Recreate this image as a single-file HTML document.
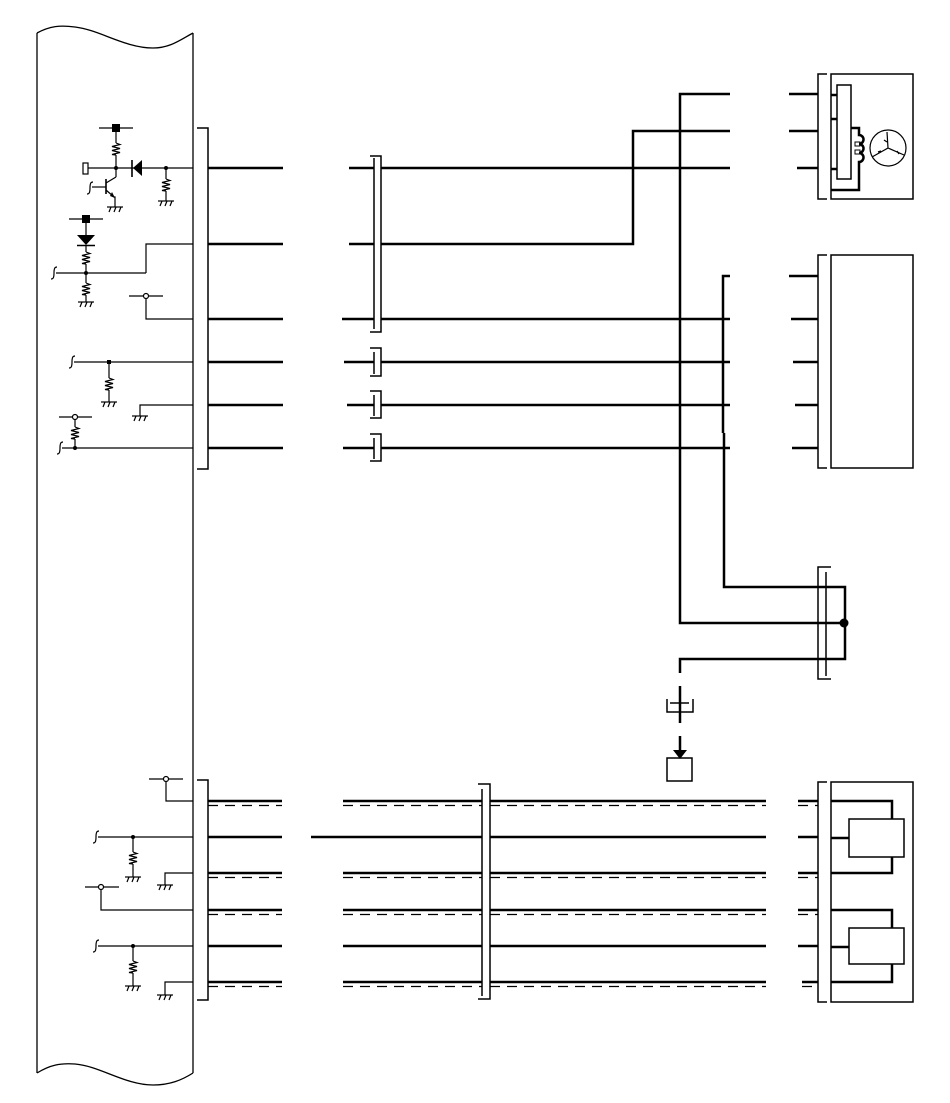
<!DOCTYPE html>
<html><head><meta charset="utf-8"><style>
html,body{margin:0;padding:0;background:#fff;}
svg{display:block;}
</style></head><body>
<svg width="950" height="1103" viewBox="0 0 950 1103" xmlns="http://www.w3.org/2000/svg">
<defs>
<g id="gnd" fill="none" stroke="#000" stroke-width="1.2"><line x1="-8" y1="0" x2="8" y2="0"/><path d="M-4,0 l-2,5 M1,0 l-2,5 M6,0 l-2,5"/></g>
<path id="res" fill="none" stroke="#000" stroke-width="1.2" d="M0,0 l4,1.5 l-8,2 l8,2 l-8,2 l8,2 l-8,2 l4,0.5"/>
<path id="sq" fill="none" stroke="#000" stroke-width="1.2" d="M3,-6 c-2,0 -3,1 -3,6 c0,5 -1,6 -3,6"/>
</defs>
<rect width="950" height="1103" fill="#fff"/>

<!-- left panel -->
<g fill="none" stroke="#000" stroke-width="1.3">
<path d="M37,33 C50,26 60,25 75,27 C100,30 125,48 153,48 C170,48 180,40 193,33"/>
<path d="M37,1073 C50,1065 60,1063 75,1064 C100,1066 125,1085 153,1085 C170,1085 182,1080 193,1073"/>
<line x1="37" y1="33" x2="37" y2="1073"/>
<line x1="193" y1="33" x2="193" y2="1073"/>
</g>

<!-- left internal circuitry -->
<g fill="none" stroke="#000" stroke-width="1.2">
<!-- group 1 -->
<rect x="83" y="163" width="5" height="11" fill="#fff"/>
<line x1="88" y1="168" x2="193" y2="168"/>
<line x1="99" y1="128" x2="133" y2="128"/>
<line x1="116" y1="132" x2="116" y2="143"/>
<line x1="116" y1="155" x2="116" y2="177"/>
<line x1="106" y1="179" x2="106" y2="194" stroke-width="1.6"/>
<line x1="92" y1="187" x2="106" y2="187"/>
<polyline points="106,183 116,177"/>
<polyline points="106,190 114,197 115,197 115,207"/>
<line x1="132" y1="160" x2="132" y2="177" stroke-width="1.6"/>
<line x1="166" y1="168" x2="166" y2="179"/>
<line x1="166" y1="191" x2="166" y2="201"/>
<!-- group 2 -->
<line x1="69" y1="219" x2="103" y2="219"/>
<line x1="86" y1="223" x2="86" y2="235"/>
<line x1="77" y1="245.5" x2="95" y2="245.5" stroke-width="1.6"/>
<line x1="86" y1="245" x2="86" y2="252"/>
<line x1="86" y1="264" x2="86" y2="283"/>
<line x1="56" y1="273" x2="146" y2="273"/>
<polyline points="146,273 146,244 193,244"/>
<line x1="86" y1="295" x2="86" y2="302"/>
<!-- switch row 319 -->
<line x1="129" y1="296" x2="163" y2="296"/>
<polyline points="146,298 146,319 193,319"/>
<!-- row 362 -->
<line x1="74" y1="362" x2="193" y2="362"/>
<line x1="109" y1="362" x2="109" y2="378"/>
<line x1="109" y1="390" x2="109" y2="402"/>
<!-- row 405 -->
<polyline points="140,416 140,405 193,405"/>
<!-- row 448 -->
<line x1="59" y1="417" x2="92" y2="417"/>
<line x1="75" y1="420" x2="75" y2="427"/>
<line x1="75" y1="439" x2="75" y2="448"/>
<line x1="62" y1="448" x2="193" y2="448"/>

<!-- bottom group -->
<line x1="149" y1="779" x2="183" y2="779"/>
<polyline points="166,782 166,801 193,801"/>
<line x1="98" y1="837" x2="193" y2="837"/>
<line x1="133" y1="837" x2="133" y2="852"/>
<line x1="133" y1="864" x2="133" y2="877"/>
<polyline points="165,885 165,873 193,873"/>
<line x1="85" y1="887" x2="119" y2="887"/>
<polyline points="101,890 101,910 193,910"/>
<line x1="98" y1="946" x2="193" y2="946"/>
<line x1="133" y1="946" x2="133" y2="961"/>
<line x1="133" y1="973" x2="133" y2="986"/>
<polyline points="165,995 165,982 193,982"/>
</g>
<!-- filled bits -->
<g fill="#000" stroke="none">
<rect x="112" y="124" width="8" height="8"/>
<rect x="82" y="215" width="8" height="8"/>
<polygon points="133,168 142,160 142,176"/>
<polygon points="77,235 95,235 86,245"/>
<polygon points="110,196 115,198 112,192"/>
<circle cx="116" cy="168" r="2"/>
<circle cx="166" cy="168" r="2"/>
<circle cx="86" cy="273" r="2"/>
<rect x="107" y="360" width="4" height="4"/>
<circle cx="75" cy="448" r="2"/>
<circle cx="133" cy="837" r="2"/>
<circle cx="133" cy="946" r="2"/>
</g>
<g fill="#fff" stroke="#000" stroke-width="1.2">
<circle cx="146" cy="296" r="2.5"/>
<circle cx="75" cy="417" r="2.5"/>
<circle cx="166" cy="779" r="2.5"/>
<circle cx="101" cy="887" r="2.5"/>
</g>
<!-- resistors -->
<use href="#res" x="116" y="143"/>
<use href="#res" x="166" y="179"/>
<use href="#res" x="86" y="252"/>
<use href="#res" x="86" y="283"/>
<use href="#res" x="109" y="378"/>
<use href="#res" x="75" y="427"/>
<use href="#res" x="133" y="852"/>
<use href="#res" x="133" y="961"/>
<!-- grounds -->
<use href="#gnd" x="115" y="207"/>
<use href="#gnd" x="166" y="201"/>
<use href="#gnd" x="86" y="302"/>
<use href="#gnd" x="109" y="402"/>
<use href="#gnd" x="140" y="416"/>
<use href="#gnd" x="133" y="877"/>
<use href="#gnd" x="165" y="885"/>
<use href="#gnd" x="133" y="986"/>
<use href="#gnd" x="165" y="995"/>
<!-- squiggles -->
<use href="#sq" x="90" y="188"/>
<use href="#sq" x="54" y="273"/>
<use href="#sq" x="72" y="362"/>
<use href="#sq" x="60" y="448"/>
<use href="#sq" x="96" y="837"/>
<use href="#sq" x="96" y="946"/>

<!-- connector brackets (thin) -->
<g fill="none" stroke="#000" stroke-width="1.5">
<polyline points="197,128 208,128 208,469 197,469"/>
<polyline points="197,780 208,780 208,1000 197,1000"/>
<!-- middle tall -->
<polyline points="370,156 381,156 381,332 370,332"/>
<line x1="374" y1="158" x2="374" y2="329"/>
<polyline points="370,348 381,348 381,376 370,376"/>
<line x1="374" y1="352" x2="374" y2="374"/>
<polyline points="370,391 381,391 381,418 370,418"/>
<line x1="374" y1="395" x2="374" y2="416"/>
<polyline points="370,434 381,434 381,461 370,461"/>
<line x1="374" y1="438" x2="374" y2="459"/>
<!-- bottom middle -->
<polyline points="478,784 490,784 490,999 478,999"/>
<line x1="482" y1="789" x2="482" y2="996"/>
<!-- right brackets -->
<polyline points="827,74 818,74 818,199 827,199"/>
<rect x="831" y="74" width="82" height="125"/>
<polyline points="827,255 818,255 818,468 827,468"/>
<rect x="831" y="255" width="82" height="213"/>
<polyline points="831,567 818,567 818,679 831,679"/>
<line x1="826" y1="572" x2="826" y2="676"/>
<polyline points="827,782 818,782 818,1002 827,1002"/>
<rect x="831" y="782" width="82" height="220"/>
<!-- motor internals -->
<rect x="837" y="85" width="14" height="94"/>
<circle cx="888" cy="148" r="18" stroke-width="1.2"/>
<path d="M887,132 L888,148 L872,157 M888,148 L904,155" stroke-width="1.2"/>
<path d="M884,140 l3,2 M878,152 l3,-1 M897,151 l2,3" stroke-width="1.2"/>
<rect x="855" y="142" width="5" height="4" stroke-width="1"/>
<rect x="855" y="150" width="5" height="4" stroke-width="1"/>
<!-- bottom boxes -->
<rect x="849" y="819" width="55" height="38"/>
<rect x="849" y="928" width="55" height="36"/>
<!-- fuse & ground box -->
<line x1="670" y1="703" x2="689" y2="703"/>
<polyline points="667,699 667,712 693,712 693,699"/>
<rect x="667" y="758" width="25" height="23"/>
</g>

<!-- thick wires -->
<g fill="none" stroke="#000" stroke-width="2.5">
<line x1="208" y1="168" x2="283" y2="168"/>
<line x1="208" y1="244" x2="283" y2="244"/>
<line x1="208" y1="319" x2="283" y2="319"/>
<line x1="208" y1="362" x2="283" y2="362"/>
<line x1="208" y1="405" x2="283" y2="405"/>
<line x1="208" y1="448" x2="283" y2="448"/>
<line x1="349" y1="168" x2="374" y2="168"/>
<line x1="349" y1="244" x2="374" y2="244"/>
<line x1="342" y1="319" x2="374" y2="319"/>
<line x1="344" y1="362" x2="374" y2="362"/>
<line x1="347" y1="405" x2="374" y2="405"/>
<line x1="343" y1="448" x2="374" y2="448"/>
<line x1="381" y1="168" x2="730" y2="168"/>
<polyline points="381,244 633,244 633,131 730,131"/>
<line x1="381" y1="319" x2="730" y2="319"/>
<line x1="381" y1="362" x2="730" y2="362"/>
<line x1="381" y1="405" x2="730" y2="405"/>
<line x1="381" y1="448" x2="730" y2="448"/>
<polyline points="730,94 680,94 680,623 826,623"/>
<polyline points="730,276 723,276 723,433"/>
<polyline points="724,433 724,587 826,587"/>
<polyline points="680,673 680,659 826,659"/>
<line x1="680" y1="686" x2="680" y2="723"/>
<line x1="680" y1="736" x2="680" y2="751"/>
<polyline points="826,587 845,587 845,659 826,659"/>
<line x1="826" y1="623" x2="845" y2="623"/>
<!-- right stubs -->
<line x1="789" y1="94" x2="818" y2="94"/>
<line x1="789" y1="131" x2="818" y2="131"/>
<line x1="797" y1="168" x2="818" y2="168"/>
<line x1="789" y1="276" x2="818" y2="276"/>
<line x1="791" y1="319" x2="818" y2="319"/>
<line x1="793" y1="362" x2="818" y2="362"/>
<line x1="795" y1="405" x2="818" y2="405"/>
<line x1="792" y1="448" x2="818" y2="448"/>
<!-- motor internal -->
<path d="M831,95 H837 M831,119 H837 M831,169 H837"/>
<path d="M851,128 H859 V135 a4,4 0 0 1 0,9 a4,4 0 0 1 0,9 a4,4 0 0 1 0,9 V190 H831"/>
<!-- bottom rows -->
<path d="M208,801 H282 M343,801 H482 M490,801 H766 M798,801 H818"/>
<path d="M208,837 H282 M311,837 H482 M490,837 H766 M798,837 H818"/>
<path d="M208,873 H282 M343,873 H482 M490,873 H766 M798,873 H818"/>
<path d="M208,910 H282 M343,910 H482 M490,910 H766 M798,910 H818"/>
<path d="M208,946 H282 M343,946 H482 M490,946 H766 M798,946 H818"/>
<path d="M208,982 H282 M343,982 H482 M490,982 H766 M802,982 H818"/>
<!-- bottom right internals -->
<path d="M831,801 H892 V819 M892,857 V873 H831 M831,838 H849"/>
<path d="M831,910 H892 V928 M892,964 V982 H831 M831,947 H849"/>
</g>
<g fill="none" stroke="#000" stroke-width="1.2" stroke-dasharray="10 7">
<path d="M208,805.5 H282 M343,805.5 H482 M490,805.5 H766 M798,805.5 H818"/>
<path d="M208,877.5 H282 M343,877.5 H482 M490,877.5 H766 M798,877.5 H818"/>
<path d="M208,914.5 H282 M343,914.5 H482 M490,914.5 H766 M798,914.5 H818"/>
<path d="M208,986.5 H282 M343,986.5 H482 M490,986.5 H766 M802,986.5 H818"/>
</g>
<g fill="#000">
<circle cx="844" cy="623" r="4.5"/>
<polygon points="673,750 687,750 680,759"/>
</g>
</svg>
</body></html>
